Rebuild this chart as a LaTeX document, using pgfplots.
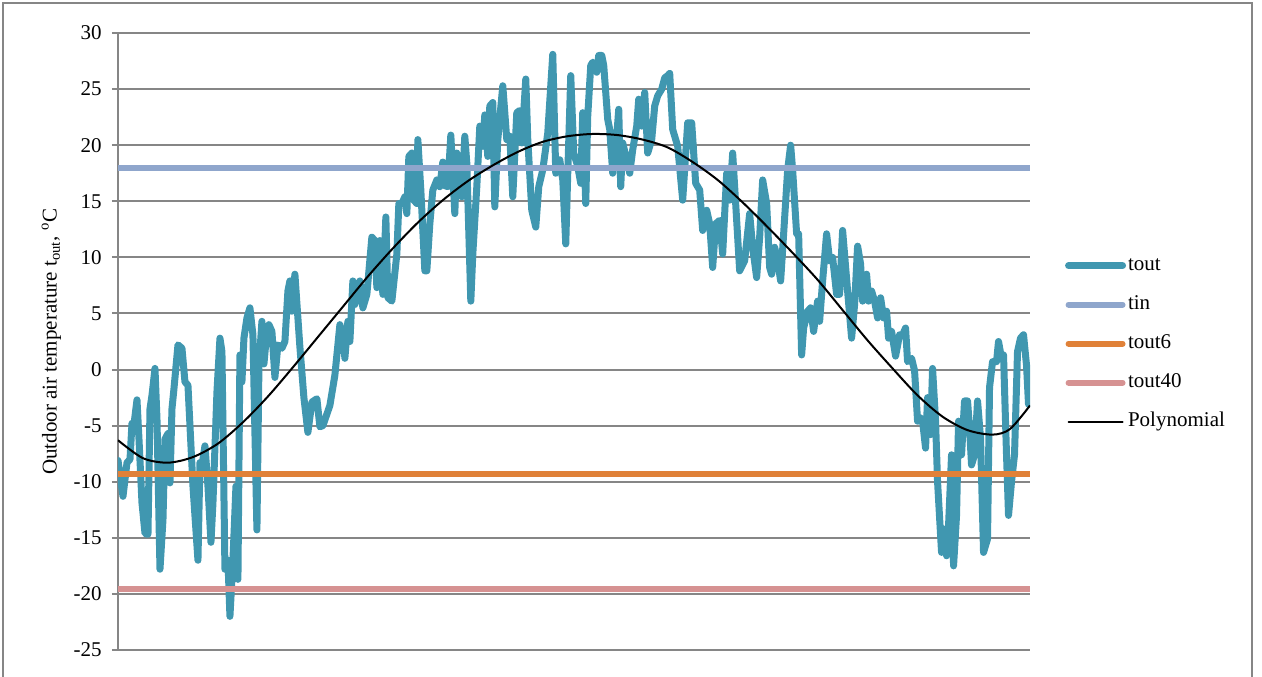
\documentclass[border=0pt]{standalone}
\usepackage{fontspec}
\setmainfont{Liberation Serif}
\usepackage{pgfplots}
\pgfplotsset{compat=1.18}
\definecolor{toutc}{RGB}{64,151,176}
\definecolor{tinc}{RGB}{143,166,204}
\definecolor{toutsix}{RGB}{224,129,56}
\definecolor{toutforty}{RGB}{214,146,146}
\definecolor{gridc}{RGB}{134,134,134}
\begin{document}
\fontsize{10.5}{12.6}\selectfont
\begin{tikzpicture}[x=1pt,y=1pt]
\useasboundingbox (0,0) rectangle (631,338);
\draw[gridc, line width=0.9pt] (1.5,-10) -- (1.5,336.5) -- (626,336.5) -- (626,-10);
\begin{axis}[
  at={(59pt,13pt)}, anchor=south west,
  scale only axis, width=456pt, height=308.5pt,
  xmin=0, xmax=365, ymin=-25, ymax=30,
  axis x line=none, axis y line*=left,
  xtick=\empty,
  ytick={-25,-20,...,30},
  ymajorgrids,
  major grid style={gridc, line width=1pt},
  y axis line style={gridc, line width=1pt},
  ytick style={gridc, line width=1pt},
  tick align=outside, major tick length=3pt,
  /pgf/number format/assume math mode=true,
  yticklabel style={font=\fontsize{10.5}{12}\selectfont, xshift=-1.5pt},
  ylabel={Outdoor air temperature t\textsubscript{out}, \textsuperscript{o}C},
  ylabel style={at={(axis description cs:-0.073,0.5)}, anchor=center, font=\fontsize{10.5}{12}\selectfont},
  legend cell align=left,
  legend image code/.code={\draw[#1, line cap=round] (0pt,0pt) -- (27pt,0pt);},
  legend style={draw=none, fill=none, inner sep=0pt,
    at={(axis description cs:1.038,0.643)}, anchor=north west,
    font=\fontsize{10.5}{12}\selectfont, row sep=7.5pt,
    nodes={inner sep=1pt, text height=7.5pt, text depth=2.5pt}},
]
\addplot[toutc, line width=3.5pt, line join=round, line cap=round] coordinates {
(0.0,-8.1) (2.0,-11.3) (3.6,-8.3) (4.8,-8.0) (5.6,-4.8) (6.0,-5.6) (7.6,-2.7) (8.4,-6.2)
(9.6,-11.9) (10.8,-14.6) (12.0,-14.7) (12.8,-3.5) (13.6,-2.3) (14.8,0.1) (15.6,-4.4)
(16.8,-17.8) (18.0,-13.4) (18.8,-6.2) (20.0,-5.7) (20.8,-10.1) (21.6,-3.5) (22.4,-1.7)
(24.0,2.2) (25.6,1.9) (26.8,-1.1) (28.0,-1.4) (30.0,-10.4) (32.0,-17.0) (32.8,-8.3)
(33.6,-8.6) (34.8,-6.8) (36.0,-10.4) (37.2,-15.4) (38.0,-11.9) (39.6,-2.0) (40.8,2.8)
(41.6,1.6) (42.8,-17.8) (44.0,-17.0) (44.8,-22.0) (46.0,-17.0) (47.2,-10.4) (48.0,-18.7)
(48.8,1.3) (49.6,-1.1) (50.4,2.8) (51.6,4.6) (52.8,5.5) (54.0,3.1) (55.6,-14.3) (56.4,0.2)
(57.6,4.3) (58.4,0.5) (59.6,3.4) (60.4,4.0) (61.6,3.4) (62.8,-0.7) (64.0,2.2) (65.6,1.9)
(66.8,2.5) (68.0,7.0) (68.8,7.9) (69.6,5.2) (70.8,8.5) (72.0,4.6) (72.8,2.0) (74.4,-2.5)
(76.0,-5.6) (77.6,-2.9) (79.6,-2.6) (80.8,-5.1) (82.0,-5.0) (84.8,-3.2) (86.8,-0.5)
(88.8,4.0) (90.0,3.1) (90.8,1.0) (92.0,4.3) (92.8,2.5) (94.0,7.9) (94.8,5.8) (95.6,6.7)
(96.8,7.9) (98.0,5.5) (99.6,6.7) (101.6,11.8) (102.8,11.5) (103.6,7.3) (104.8,11.5)
(106.0,6.7) (107.2,13.6) (108.0,6.4) (109.6,6.1) (111.6,10.3) (112.4,14.8) (113.6,14.8)
(114.8,15.4) (115.6,13.9) (116.4,19.0) (117.6,19.3) (118.4,15.1) (119.6,14.8) (120.0,20.5)
(121.2,16.0) (122.8,8.8) (123.6,8.8) (124.8,13.0) (126.0,16.0) (127.6,16.9) (128.8,16.3)
(130.0,18.5) (130.8,16.4) (132.0,16.3) (133.2,20.9) (134.0,17.5) (134.8,13.9) (135.6,19.3)
(136.4,18.1) (137.6,15.4) (138.8,20.8) (139.6,18.4) (141.2,6.1) (142.0,10.3) (143.6,16.3)
(144.8,21.7) (146.0,19.9) (146.8,22.7) (148.0,19.0) (148.8,23.5) (150.0,23.8) (150.8,14.5)
(152.0,20.5) (154.0,25.3) (155.6,20.5) (156.8,20.8) (158.0,15.4) (159.6,22.9) (160.8,23.1)
(161.6,20.2) (163.2,25.9) (164.0,20.5) (165.6,14.2) (167.2,12.7) (168.4,16.3) (170.0,17.8)
(172.0,21.1) (174.0,28.1) (175.2,17.5) (176.8,18.7) (178.0,16.9) (179.2,11.2) (180.0,17.5)
(181.2,26.2) (182.4,19.3) (184.0,18.1) (185.2,16.6) (186.0,22.9) (187.2,14.8) (188.0,22.6)
(189.2,27.1) (190.0,27.4) (191.6,26.5) (192.4,28.0) (193.6,28.0) (194.4,27.1) (196.0,22.3)
(196.8,21.4) (198.0,17.5) (199.6,20.8) (200.4,23.2) (201.2,16.3) (202.0,20.2) (203.6,18.7)
(204.8,17.5) (206.0,19.6) (207.6,21.7) (208.4,24.1) (209.6,21.7) (210.8,24.7) (212.0,19.3)
(213.6,20.5) (214.8,23.5) (216.0,24.4) (217.6,25.0) (218.8,26.0) (220.0,26.2) (220.8,26.4)
(222.0,21.4) (224.0,19.9) (226.0,15.1) (228.0,22.0) (229.6,22.0) (231.2,16.6) (232.8,16.0)
(234.0,12.4) (235.6,14.2) (236.8,13.0) (238.0,9.1) (239.2,13.0) (240.8,13.3) (242.0,10.3)
(243.6,17.5) (244.8,15.1) (246.0,19.3) (247.6,13.3) (248.8,8.8) (250.8,9.7) (252.8,13.9)
(254.0,10.9) (255.6,8.2) (256.8,11.8) (258.0,16.9) (259.6,14.8) (260.8,9.1) (261.6,8.5)
(262.8,10.9) (264.0,9.7) (265.2,7.9) (266.4,12.1) (268.0,17.8) (269.2,20.0) (270.0,17.8)
(271.6,12.1) (272.4,12.1) (273.6,1.3) (274.4,3.7) (276.0,5.2) (277.2,5.5) (278.4,3.4)
(280.0,6.1) (280.8,4.3) (282.0,7.9) (283.6,12.1) (284.8,9.7) (286.0,10.0) (287.6,6.7)
(288.8,6.7) (290.0,12.4) (292.0,7.0) (293.6,2.8) (294.8,5.8) (296.0,11.0) (297.2,9.4)
(298.0,6.1) (299.6,8.5) (300.4,6.1) (301.6,7.0) (302.8,6.1) (304.0,4.6) (305.2,6.4)
(306.4,4.6) (307.6,5.2) (308.4,2.8) (309.6,3.4) (311.2,1.2) (312.8,3.1) (314.0,3.1)
(315.2,3.7) (316.0,0.7) (317.6,1.0) (318.8,-0.1) (320.0,-4.6) (321.2,-4.3) (322.0,-4.6)
(323.2,-7.0) (324.0,-2.5) (325.2,-5.8) (326.0,0.1) (327.2,-4.6) (328.0,-10.0) (329.6,-16.3)
(330.4,-14.2) (331.6,-16.6) (332.4,-13.9) (333.6,-7.6) (334.4,-17.5) (335.6,-13.0)
(336.4,-4.6) (337.6,-7.6) (338.8,-2.8) (340.0,-2.8) (340.8,-5.2) (341.6,-8.5) (342.8,-7.6)
(344.0,-2.8) (345.2,-6.1) (346.4,-16.3) (348.0,-15.1) (348.8,-1.6) (350.0,0.7) (351.6,0.7)
(352.4,2.5) (353.6,1.0) (354.4,1.3) (355.6,-7.6) (356.4,-13.0) (357.6,-10.0) (358.8,-7.6)
(360.0,1.6) (361.2,2.8) (362.4,3.1) (363.6,0.4) (364.4,-3.1)
};
\addlegendentry{tout}
\addplot[tinc, line width=3pt] coordinates {(0,18) (365,18)};
\addlegendentry{tin}
\addplot[toutsix, line width=3pt] coordinates {(0,-9.3) (365,-9.3)};
\addlegendentry{tout6}
\addplot[toutforty, line width=3pt] coordinates {(0,-19.6) (365,-19.6)};
\addlegendentry{tout40}
\addplot[black, line width=1pt, smooth, tension=0.5] coordinates {
(0,-6.3) (10,-7.9) (20,-8.3) (30,-7.8) (40,-6.6) (50,-4.7) (60,-2.4) (70,0.2) (80,2.9)
(90,5.6) (100,8.3) (110,10.8) (120,13.1) (130,15.1) (140,16.8) (150,18.2) (160,19.4)
(170,20.3) (180,20.8) (190,21.0) (200,20.9) (210,20.5) (220,19.8) (230,18.5) (240,16.9)
(250,14.9) (260,12.7) (270,10.4) (280,8.0) (290,5.3) (300,2.6) (310,0.1) (320,-2.3)
(330,-4.2) (340,-5.4) (350,-5.8) (357,-5.3) (365,-3.2)
};
\addlegendentry{Polynomial}
\end{axis}
\end{tikzpicture}
\end{document}
